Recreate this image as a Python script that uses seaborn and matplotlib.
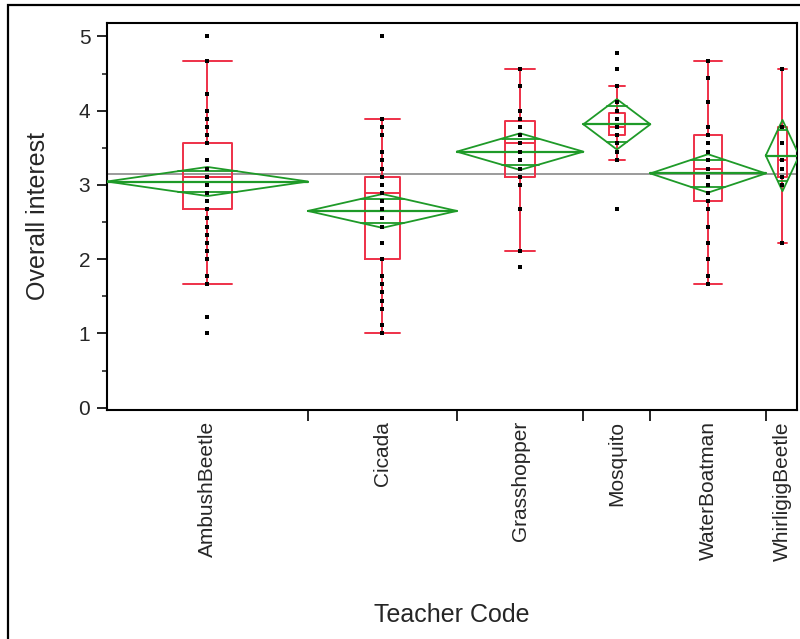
import numpy as np
import pandas as pd
import matplotlib
matplotlib.use("Agg")
import matplotlib.pyplot as plt
from matplotlib.patches import Rectangle
import seaborn as sns

sns.set_style("ticks")
plt.rcParams["font.family"] = ["Liberation Sans", "DejaVu Sans"]

teachers = ["AmbushBeetle", "Cicada", "Grasshopper", "Mosquito",
            "WaterBoatman", "WhirligigBeetle"]

# Overall interest scores per class and the number of students giving each score
ambush_scores = [1.00, 1.22, 1.67, 1.78, 2.00, 2.11, 2.22, 2.33, 2.44, 2.56, 2.67, 2.78,
                 2.89, 3.00, 3.11, 3.22, 3.33, 3.56, 3.67, 3.78, 3.89, 4.00, 4.22, 4.67, 5.00]
ambush_counts = [1, 1, 1, 1, 3, 1, 1, 2, 1, 1, 3, 4, 2, 2, 4, 5, 2, 6, 6, 2, 1, 1, 1, 1, 1]

cicada_scores = [1.00, 1.11, 1.33, 1.44, 1.56, 1.67, 1.78, 2.00, 2.22, 2.44, 2.56, 2.67,
                 2.78, 2.89, 3.00, 3.11, 3.22, 3.33, 3.44, 3.67, 3.78, 3.89, 5.00]
cicada_counts = [2, 1, 1, 1, 1, 1, 2, 2, 3, 1, 1, 1, 1, 4, 3, 6, 2, 1, 2, 1, 1, 1, 1]

grasshopper_scores = [1.89, 2.11, 2.67, 3.00, 3.11, 3.22, 3.33, 3.44, 3.56, 3.67, 3.78,
                      3.89, 4.00, 4.33, 4.56]
grasshopper_counts = [1, 1, 2, 2, 5, 2, 2, 1, 2, 3, 4, 3, 4, 1, 1]

mosquito_scores = [2.67, 3.33, 3.44, 3.56, 3.67, 3.78, 3.89, 4.00, 4.11, 4.33, 4.56, 4.78]
mosquito_counts = [1, 1, 1, 1, 4, 2, 3, 1, 1, 1, 1, 1]

waterboatman_scores = [1.67, 1.78, 2.00, 2.22, 2.44, 2.67, 2.78, 2.89, 3.00, 3.11, 3.22,
                       3.33, 3.44, 3.56, 3.67, 3.78, 4.11, 4.44, 4.67]
waterboatman_counts = [1, 1, 1, 1, 1, 2, 3, 1, 3, 1, 3, 1, 1, 2, 4, 2, 1, 1, 1]

whirligig_scores = [2.22, 3.00, 3.11, 3.22, 3.33, 3.56, 3.78, 4.56]
whirligig_counts = [1, 1, 1, 1, 1, 1, 2, 1]

groups = [
    (ambush_scores, ambush_counts),
    (cicada_scores, cicada_counts),
    (grasshopper_scores, grasshopper_counts),
    (mosquito_scores, mosquito_counts),
    (waterboatman_scores, waterboatman_counts),
    (whirligig_scores, whirligig_counts),
]

df = pd.concat(
    [pd.DataFrame({"Teacher Code": name,
                   "Overall interest": np.repeat(scores, counts)})
     for name, (scores, counts) in zip(teachers, groups)],
    ignore_index=True,
)

# x axis proportional to group size
sizes = df.groupby("Teacher Code", sort=False).size().reindex(teachers).values
edges = np.concatenate([[0], np.cumsum(sizes)])
centers = (edges[:-1] + edges[1:]) / 2
df["x"] = df["Teacher Code"].map(dict(zip(teachers, centers)))

RED = "#EE3048"
GREEN = "#1E9A28"

fig = plt.figure(figsize=(8.0, 6.39), dpi=100)
ax = fig.add_axes([107 / 800, (639 - 410) / 639, 690 / 800, 387 / 639])

# grand mean
grand_mean = df["Overall interest"].mean()
ax.axhline(grand_mean, color="#8a8a8a", lw=1.2, zorder=1)

# box plots, one per group so each box scales with its group width
for name, c, n in zip(teachers, centers, sizes):
    sub = df[df["Teacher Code"] == name]
    w = 0.24 * n
    sns.boxplot(data=sub, x="x", y="Overall interest", native_scale=True,
                width=w, fill=False, color=RED, linewidth=1.4, whis=1.5,
                showfliers=False, capwidths=w, ax=ax, zorder=2)

# means diamonds (95% CI with pooled standard deviation)
stats = (df.groupby("Teacher Code", sort=False)["Overall interest"]
         .agg(["mean", "var", "count"]).reindex(teachers))
dof = (stats["count"] - 1).sum()
pooled_sd = np.sqrt(((stats["count"] - 1) * stats["var"]).sum() / dof)
try:
    from scipy.stats import t as t_dist
    tq = t_dist.ppf(0.975, dof)
except Exception:
    tq = 1.973
for (lo, hi), c, (m, n) in zip(zip(edges[:-1], edges[1:]), centers,
                                 zip(stats["mean"], stats["count"])):
    h = tq * pooled_sd / np.sqrt(n)
    ax.plot([lo, c, hi, c, lo], [m, m + h, m, m - h, m], color=GREEN, lw=1.3, zorder=3)
    ax.plot([lo, hi], [m, m], color=GREEN, lw=1.6, zorder=3)
    half = (hi - lo) / 2
    off = h / np.sqrt(2)
    span = half * (1 - 1 / np.sqrt(2))
    for yy in (m + off, m - off):
        ax.plot([c - span, c + span], [yy, yy], color=GREEN, lw=1.3, zorder=3)

# individual responses
sns.scatterplot(data=df, x="x", y="Overall interest", marker="s", color="black",
                s=6, linewidth=0, legend=False, ax=ax, zorder=5)

ax.set_xlim(0, 185.4)
ax.set_ylim(-0.03, 5.18)
ax.set_yticks(range(6))
ax.set_yticks(np.arange(0.5, 5, 1), minor=True)
ax.set_xticks(edges[1:-1])
ax.set_xticklabels([])
ax.set_xticks(centers, minor=True)
ax.set_xticklabels(teachers, minor=True, rotation=90, va="top", ha="center")
ax.tick_params(axis="y", which="major", length=7, width=1.2, labelsize=15, pad=5,
               color="black")
ax.tick_params(axis="y", which="minor", length=3.5, width=1.2)
ax.tick_params(axis="x", which="major", length=8, width=1.2, color="black")
ax.tick_params(axis="x", which="minor", length=0, labelsize=15, pad=8)
for s in ax.spines.values():
    s.set_linewidth(1.5)
    s.set_color("black")

ax.set_xlabel("Teacher Code", fontsize=18)
ax.set_ylabel("Overall interest", fontsize=18)
ax.xaxis.set_label_coords(0.5, -0.499)
ax.yaxis.set_label_coords(-0.083, 0.5)

# outer frame around the report
fig.add_artist(Rectangle((8 / 800, -0.2), 1.2, 1.2 - 5 / 639, transform=fig.transFigure,
                         fill=False, lw=1.6, edgecolor="black", clip_on=False))

fig.savefig("out.png", dpi=100, facecolor="white")
